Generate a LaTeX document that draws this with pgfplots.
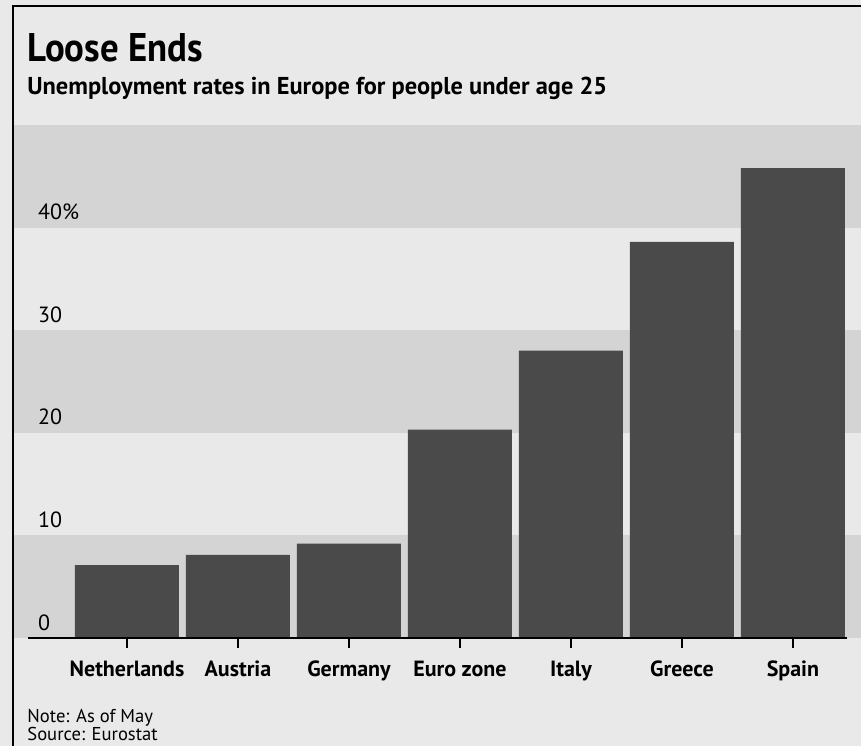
\documentclass[border=0pt]{standalone}
\usepackage{pgfplots}
\pgfplotsset{compat=1.18}
\usepackage{fontspec}
\setmainfont{PT Sans}
\definecolor{bg}{HTML}{E9E9E9}
\definecolor{band}{HTML}{D4D4D4}
\definecolor{barc}{HTML}{4A4A4A}
\begin{document}
\begin{tikzpicture}[x=1pt,y=1pt]
\fill[bg] (0,0) rectangle (430.5,373);
\begin{axis}[
  at={(6pt,54pt)}, anchor=south west,
  scale only axis, width=424.5pt, height=256.5pt,
  xmin=-1.036, xmax=6.613, ymin=0, ymax=50,
  axis on top,
  axis x line*=bottom, axis y line*=left,
  x axis line style={draw=none}, y axis line style={draw=none},
  xtick={0,...,6},
  xticklabels={Netherlands,Austria,Germany,Euro zone,Italy,Greece,Spain},
  ytick={0,10,20,30,40}, yticklabels={0,10,20,30,40\%},
  tick align=outside, major tick length=5pt,
  xtick style={black, line width=0.6pt},
  ytick style={draw=none},
  xticklabel style={font=\bfseries\fontsize{11}{13}\selectfont, anchor=base, yshift=-14pt},
  yticklabel style={font=\fontsize{11}{13}\selectfont, anchor=base west, xshift=14.5pt, yshift=4pt},
  /pgf/number format/assume math mode=true,
]
\addplot[draw=none, fill=band] coordinates {(-1.036,0) (6.613,0) (6.613,10) (-1.036,10)} -- cycle;
\addplot[draw=none, fill=band] coordinates {(-1.036,20) (6.613,20) (6.613,30) (-1.036,30)} -- cycle;
\addplot[draw=none, fill=band] coordinates {(-1.036,40) (6.613,40) (6.613,50) (-1.036,50)} -- cycle;
\addplot[ybar, bar width=0.937, fill=barc, draw=none] coordinates {(0,7.1) (1,8.1) (2,9.2) (3,20.3) (4,28.0) (5,38.6) (6,45.8)};
\addplot[black, line width=1pt] coordinates {(-0.892,0) (6.487,0)};
\end{axis}
\node[anchor=base west, inner sep=0, font=\bfseries\fontsize{20}{24}\selectfont] at (13.5,342) {\scalebox{0.92}[1]{Loose Ends}};
\node[anchor=base west, inner sep=0, font=\bfseries\fontsize{12.2}{14}\selectfont] at (13.5,325.5) {Unemployment rates in Europe for people under age 25};
\node[anchor=base west, inner sep=0, font=\fontsize{9.3}{11}\selectfont] at (13.5,12) {Note: As of May};
\node[anchor=base west, inner sep=0, font=\fontsize{9.3}{11}\selectfont] at (13.5,3) {Source: Eurostat};
\draw[line width=1pt] (6.35,0) -- (6.35,370.15) -- (430.5,370.15);
\pgfresetboundingbox
\path[use as bounding box] (0,0) rectangle (430.5,373);
\end{tikzpicture}
\end{document}
